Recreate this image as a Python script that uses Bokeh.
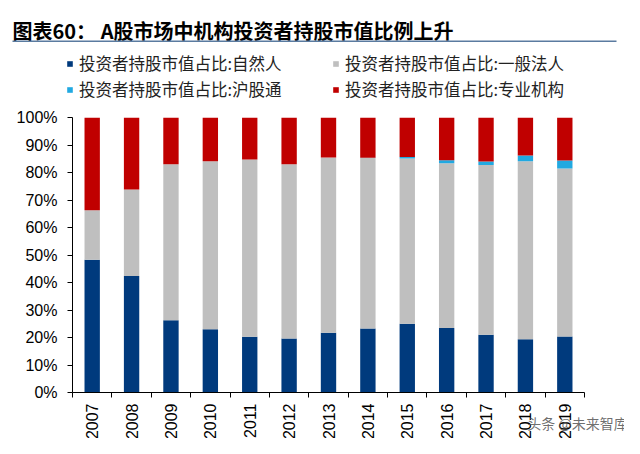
import numpy as np
from bokeh.plotting import figure
from bokeh.layouts import column
from bokeh.models import (ColumnDataSource, Legend, LegendItem, Label, BoxAnnotation,
                          FixedTicker, NumeralTickFormatter, Range1d)
from bokeh.embed import file_html
from bokeh.resources import INLINE

years = ["2007", "2008", "2009", "2010", "2011", "2012", "2013",
         "2014", "2015", "2016", "2017", "2018", "2019"]
natural = [48.3, 42.4, 26.3, 23.0, 20.3, 19.6, 21.7, 23.3, 25.0, 23.5, 21.0, 19.4, 20.4]
general = [18.0, 31.4, 56.7, 61.1, 64.4, 63.4, 63.8, 62.0, 60.1, 59.9, 61.7, 64.7, 61.1]
hsgt = [0.0, 0.0, 0.0, 0.0, 0.0, 0.0, 0.0, 0.1, 0.5, 1.1, 1.3, 2.1, 2.9]
professional = [33.7, 26.2, 17.0, 15.9, 15.3, 17.0, 14.5, 14.6, 14.4, 15.5, 16.0, 13.8, 15.6]
series_names = ["投资者持股市值占比:自然人", "投资者持股市值占比:一般法人",
                "投资者持股市值占比:沪股通", "投资者持股市值占比:专业机构"]
colors = ["#003A7D", "#BFBFBF", "#21A9E1", "#C00000"]
title_text = "图表60：\u00a0A股市场中机构投资者持股市值比例上升"
watermark = "头条 @未来智库\u3000"

xpos = np.arange(len(years)) + 0.5
src = ColumnDataSource(dict(
    x=xpos,
    natural=np.array(natural) / 100,
    general=np.array(general) / 100,
    hsgt=np.array(hsgt) / 100,
    professional=np.array(professional) / 100,
))

W = 624
HH = 101           # header height
HM = 438 - HH      # main figure height

# ---------------- header: title + legend ----------------
hd = figure(width=W, height=HH, output_backend="svg", toolbar_location=None,
            x_range=Range1d(0, W), y_range=Range1d(HH, 0),
            x_axis_type=None, y_axis_type=None,
            min_border_left=0, min_border_right=0, min_border_top=0, min_border_bottom=0)
hd.frame_align = False
hd.outline_line_color = None
hd.xgrid.visible = False
hd.ygrid.visible = False
hd.title.visible = False

# legend swatches (kept outside the visible range; only their legend glyphs show)
dummy = [hd.vbar(x=[-1000], top=[0], width=1, color=c, line_color=None) for c in colors]

def make_legend(idx, loc):
    lg = Legend(items=[LegendItem(label=series_names[i], renderers=[dummy[i]]) for i in idx],
                location=loc, orientation="vertical",
                glyph_width=7, glyph_height=7, label_standoff=6, spacing=2,
                padding=0, margin=0, border_line_color=None, background_fill_alpha=0,
                label_text_font="Noto Sans CJK SC", label_text_font_size="16.5px",
                label_text_color="#222222")
    hd.add_layout(lg)
    return lg

make_legend([0, 2], (66, 0))
make_legend([1, 3], (332, 0))

hd.add_layout(Label(x=12, y=30, text=title_text,
                    text_font="Noto Sans CJK SC", text_font_style="bold",
                    text_font_size="20px", text_color="black", text_baseline="middle"))
hd.add_layout(BoxAnnotation(left=12, right=616, top=40, bottom=41.5,
                            fill_color="#5A7BA0", fill_alpha=1, line_color=None))

# ---------------- main chart ----------------
p = figure(width=W, height=HM, output_backend="svg", toolbar_location=None,
           x_range=Range1d(0, len(years)), y_range=Range1d(0, 1),
           min_border_left=72, min_border_right=40, min_border_top=16, min_border_bottom=46)
p.outline_line_color = None
p.xgrid.visible = False
p.ygrid.visible = False
p.title.visible = False

rs = p.vbar_stack(["natural", "general", "hsgt", "professional"], x="x", width=0.39,
                  source=src, color=colors, line_color=None)

xa = p.xaxis[0]
xa.ticker = FixedTicker(ticks=list(xpos), minor_ticks=list(range(len(years) + 1)))
xa.major_label_overrides = {float(x): y for x, y in zip(xpos, years)}
xa.major_label_orientation = np.pi / 2
xa.major_tick_out = 0
xa.major_tick_in = 0
xa.minor_tick_out = 5
xa.minor_tick_in = 0
xa.minor_tick_line_color = "black"
xa.axis_line_color = "black"
xa.major_label_standoff = 6
xa.major_label_text_font = "Liberation Sans"
xa.major_label_text_font_size = "16px"
xa.major_label_text_color = "black"
# watermark as the axis label, pulled up over the tick labels
xa.axis_label = watermark
xa.axis_label_standoff = -29
xa.axis_label_text_font = "Noto Sans CJK SC"
xa.axis_label_text_font_size = "14px"
xa.axis_label_text_font_style = "normal"
xa.axis_label_text_color = "#555555"
xa.axis_label_text_alpha = 0.85
xa.axis_label_align = "end"

ya = p.yaxis[0]
ya.ticker = FixedTicker(ticks=[i / 10 for i in range(11)])
ya.formatter = NumeralTickFormatter(format="0%")
ya.major_tick_out = 5
ya.major_tick_in = 0
ya.minor_tick_line_color = None
ya.axis_line_color = "black"
ya.major_label_standoff = 10
ya.major_label_text_font = "Liberation Sans"
ya.major_label_text_font_size = "16px"
ya.major_label_text_color = "black"

layout = column(hd, p, spacing=0)
open("out.html", "w").write(file_html(layout, INLINE))
